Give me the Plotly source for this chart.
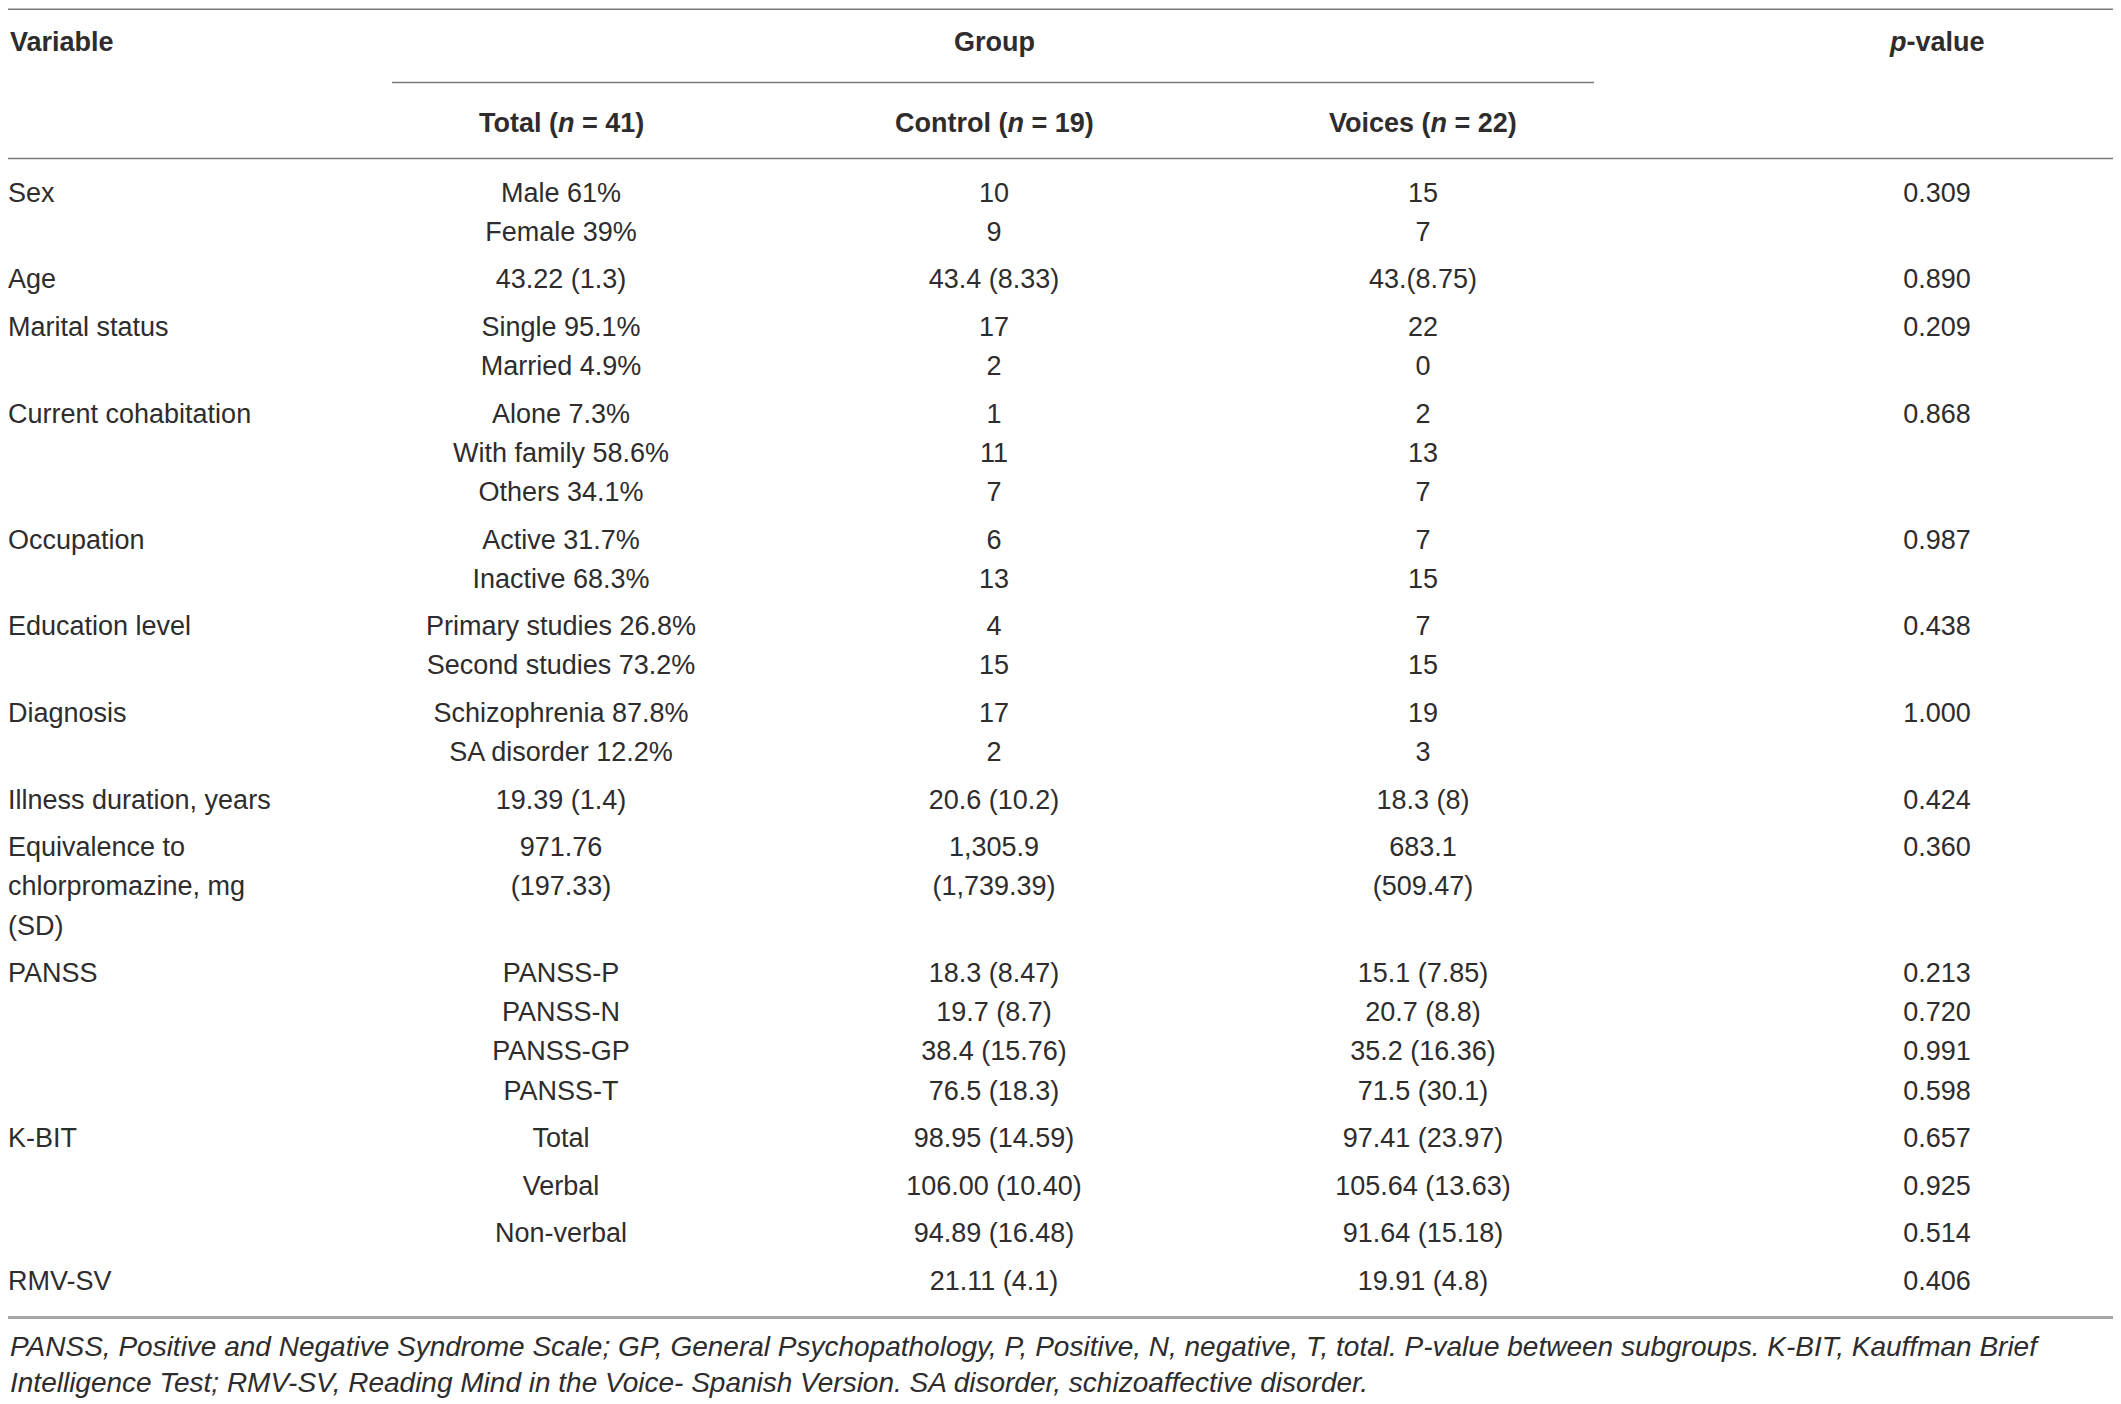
import plotly.graph_objects as go

# ---- table content (one list of lines per table row) ----
variable_lines = [
    ["Sex"], ["Age"], ["Marital status"], ["Current cohabitation"], ["Occupation"],
    ["Education level"], ["Diagnosis"], ["Illness duration, years"],
    ["Equivalence to", "chlorpromazine, mg", "(SD)"], ["PANSS"], ["K-BIT"], [], [], ["RMV-SV"],
]
total_lines = [
    ["Male 61%", "Female 39%"], ["43.22 (1.3)"], ["Single 95.1%", "Married 4.9%"],
    ["Alone 7.3%", "With family 58.6%", "Others 34.1%"], ["Active 31.7%", "Inactive 68.3%"],
    ["Primary studies 26.8%", "Second studies 73.2%"], ["Schizophrenia 87.8%", "SA disorder 12.2%"],
    ["19.39 (1.4)"], ["971.76", "(197.33)"], ["PANSS-P", "PANSS-N", "PANSS-GP", "PANSS-T"],
    ["Total"], ["Verbal"], ["Non-verbal"], [],
]
control_lines = [
    ["10", "9"], ["43.4 (8.33)"], ["17", "2"], ["1", "11", "7"], ["6", "13"], ["4", "15"],
    ["17", "2"], ["20.6 (10.2)"], ["1,305.9", "(1,739.39)"],
    ["18.3 (8.47)", "19.7 (8.7)", "38.4 (15.76)", "76.5 (18.3)"],
    ["98.95 (14.59)"], ["106.00 (10.40)"], ["94.89 (16.48)"], ["21.11 (4.1)"],
]
voices_lines = [
    ["15", "7"], ["43.(8.75)"], ["22", "0"], ["2", "13", "7"], ["7", "15"], ["7", "15"],
    ["19", "3"], ["18.3 (8)"], ["683.1", "(509.47)"],
    ["15.1 (7.85)", "20.7 (8.8)", "35.2 (16.36)", "71.5 (30.1)"],
    ["97.41 (23.97)"], ["105.64 (13.63)"], ["91.64 (15.18)"], ["19.91 (4.8)"],
]
p_lines = [
    ["0.309"], ["0.890"], ["0.209"], ["0.868"], ["0.987"], ["0.438"], ["1.000"], ["0.424"],
    ["0.360"], ["0.213", "0.720", "0.991", "0.598"], ["0.657"], ["0.925"], ["0.514"], ["0.406"],
]

header_top = ["Variable", "Group", "<i>p</i>-value"]
header_sub = ["Total (<i>n</i> = 41)", "Control (<i>n</i> = 19)", "Voices (<i>n</i> = 22)"]
footnote = ("PANSS, Positive and Negative Syndrome Scale; GP, General Psychopathology, P, Positive, "
            "N, negative, T, total. P-value between subgroups. K-BIT, Kauffman Brief<br>"
            "Intelligence Test; RMV-SV, Reading Mind in the Voice- Spanish Version. "
            "SA disorder, schizoaffective disorder.")

# ---- layout settings (pixel-like axis units) ----
W, H = 2121, 1404
PAD = 8  # page margin of the html body, shifted back through the axis ranges
FONT = "Liberation Sans"
FS = 27
TXT = "#2e2c2d"
col_x = [PAD, 561, 994, 1423, 1937]
first_y = 195
line_step = 39.2
row_gap = 8.3

# compute y of every line from the row structure
columns = [variable_lines, total_lines, control_lines, voices_lines, p_lines]
xs = [[] for _ in columns]
ys = [[] for _ in columns]
ts = [[] for _ in columns]
y = first_y
for r in range(len(variable_lines)):
    n = max(len(c[r]) for c in columns)
    for ci, c in enumerate(columns):
        for k, t in enumerate(c[r]):
            xs[ci].append(col_x[ci])
            ys[ci].append(y + k * line_step)
            ts[ci].append(t)
    y += n * line_step + row_gap

fig = go.Figure()
for ci in range(len(columns)):
    fig.add_trace(go.Scatter(
        x=xs[ci], y=ys[ci], text=ts[ci], mode="text",
        textposition="middle right" if ci == 0 else "middle center",
        textfont=dict(family=FONT, size=FS, color=TXT),
        hoverinfo="skip", cliponaxis=False,
    ))

# header texts
for x, t, anchor in zip([col_x[0], col_x[2], col_x[4]], header_top, ["left", "center", "center"]):
    fig.add_annotation(x=x, y=41.7, text="<b>" + t + "</b>", showarrow=False,
                       xanchor=anchor, yanchor="middle",
                       font=dict(family=FONT, size=FS, color=TXT))
for x, t in zip(col_x[1:4], header_sub):
    fig.add_annotation(x=x, y=123, text="<b>" + t + "</b>", showarrow=False,
                       xanchor="center", yanchor="middle",
                       font=dict(family=FONT, size=FS, color=TXT))

fig.add_annotation(x=PAD, y=1364, text="<i>" + footnote + "</i>", showarrow=False,
                   xanchor="left", yanchor="middle", align="left",
                   font=dict(family=FONT, size=28, color=TXT))

# rules
rules = [(PAD, 2113, 9.2, "#7a7a7a", 1.6), (392, 1594, 82.5, "#7a7a7a", 1.6),
         (PAD, 2113, 158.5, "#7a7a7a", 1.6), (PAD, 2113, 1317.5, "#a5a5a5", 2.8)]
for x0, x1, yy, c, w in rules:
    fig.add_shape(type="line", x0=x0, x1=x1, y0=yy, y1=yy, xref="x", yref="y",
                  line=dict(color=c, width=w))

fig.update_layout(
    width=W, height=H, margin=dict(l=0, r=0, t=0, b=0),
    paper_bgcolor="white", plot_bgcolor="white", showlegend=False,
    xaxis=dict(range=[PAD, W + PAD], visible=False, fixedrange=True),
    yaxis=dict(range=[H + PAD, PAD], visible=False, fixedrange=True),
)

fig.write_html("out.html")
